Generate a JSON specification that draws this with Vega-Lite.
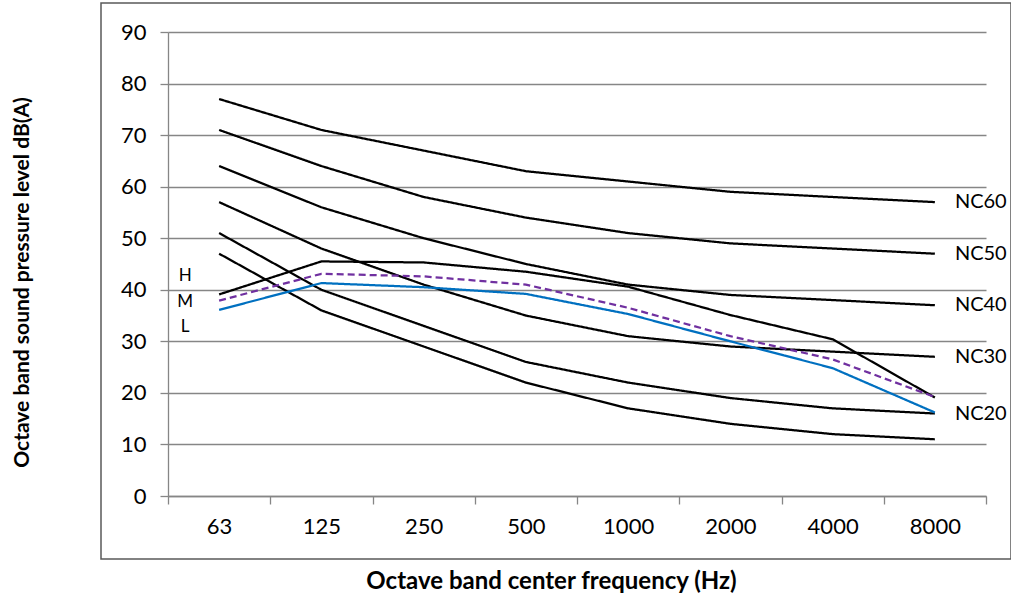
{
  "$schema": "https://vega.github.io/schema/vega-lite/v6.json",
  "width": 910,
  "height": 556,
  "autosize": {"type": "none"},
  "padding": {"left": 101, "top": 3, "right": 0, "bottom": 39},
  "background": "white",
  "config": {
    "view": {"stroke": "#595959", "strokeWidth": 1.5},
    "font": "Lato",
    "axis": {"labelFont": "Lato", "titleFont": "Lato", "labelColor": "#000000", "titleColor": "#000000"},
    "text": {"font": "Lato", "color": "#000000"}
  },
  "datasets": {
    "curves": [
      {"series": "NC15", "freq": "63", "spl": 47}, {"series": "NC15", "freq": "125", "spl": 36}, {"series": "NC15", "freq": "250", "spl": 29}, {"series": "NC15", "freq": "500", "spl": 22}, {"series": "NC15", "freq": "1000", "spl": 17}, {"series": "NC15", "freq": "2000", "spl": 14}, {"series": "NC15", "freq": "4000", "spl": 12}, {"series": "NC15", "freq": "8000", "spl": 11},
      {"series": "NC20", "freq": "63", "spl": 51}, {"series": "NC20", "freq": "125", "spl": 40}, {"series": "NC20", "freq": "250", "spl": 33}, {"series": "NC20", "freq": "500", "spl": 26}, {"series": "NC20", "freq": "1000", "spl": 22}, {"series": "NC20", "freq": "2000", "spl": 19}, {"series": "NC20", "freq": "4000", "spl": 17}, {"series": "NC20", "freq": "8000", "spl": 16},
      {"series": "NC30", "freq": "63", "spl": 57}, {"series": "NC30", "freq": "125", "spl": 48}, {"series": "NC30", "freq": "250", "spl": 41}, {"series": "NC30", "freq": "500", "spl": 35}, {"series": "NC30", "freq": "1000", "spl": 31}, {"series": "NC30", "freq": "2000", "spl": 29}, {"series": "NC30", "freq": "4000", "spl": 28}, {"series": "NC30", "freq": "8000", "spl": 27},
      {"series": "NC40", "freq": "63", "spl": 64}, {"series": "NC40", "freq": "125", "spl": 56}, {"series": "NC40", "freq": "250", "spl": 50}, {"series": "NC40", "freq": "500", "spl": 45}, {"series": "NC40", "freq": "1000", "spl": 41}, {"series": "NC40", "freq": "2000", "spl": 39}, {"series": "NC40", "freq": "4000", "spl": 38}, {"series": "NC40", "freq": "8000", "spl": 37},
      {"series": "NC50", "freq": "63", "spl": 71}, {"series": "NC50", "freq": "125", "spl": 64}, {"series": "NC50", "freq": "250", "spl": 58}, {"series": "NC50", "freq": "500", "spl": 54}, {"series": "NC50", "freq": "1000", "spl": 51}, {"series": "NC50", "freq": "2000", "spl": 49}, {"series": "NC50", "freq": "4000", "spl": 48}, {"series": "NC50", "freq": "8000", "spl": 47},
      {"series": "NC60", "freq": "63", "spl": 77}, {"series": "NC60", "freq": "125", "spl": 71}, {"series": "NC60", "freq": "250", "spl": 67}, {"series": "NC60", "freq": "500", "spl": 63}, {"series": "NC60", "freq": "1000", "spl": 61}, {"series": "NC60", "freq": "2000", "spl": 59}, {"series": "NC60", "freq": "4000", "spl": 58}, {"series": "NC60", "freq": "8000", "spl": 57},
      {"series": "H", "freq": "63", "spl": 39.1}, {"series": "H", "freq": "125", "spl": 45.5}, {"series": "H", "freq": "250", "spl": 45.3}, {"series": "H", "freq": "500", "spl": 43.5}, {"series": "H", "freq": "1000", "spl": 40.6}, {"series": "H", "freq": "2000", "spl": 35.1}, {"series": "H", "freq": "4000", "spl": 30.4}, {"series": "H", "freq": "8000", "spl": 19.1},
      {"series": "M", "freq": "63", "spl": 37.9}, {"series": "M", "freq": "125", "spl": 43.1}, {"series": "M", "freq": "250", "spl": 42.6}, {"series": "M", "freq": "500", "spl": 41.0}, {"series": "M", "freq": "1000", "spl": 36.5}, {"series": "M", "freq": "2000", "spl": 31.0}, {"series": "M", "freq": "4000", "spl": 26.5}, {"series": "M", "freq": "8000", "spl": 19.2},
      {"series": "L", "freq": "63", "spl": 36.1}, {"series": "L", "freq": "125", "spl": 41.3}, {"series": "L", "freq": "250", "spl": 40.5}, {"series": "L", "freq": "500", "spl": 39.2}, {"series": "L", "freq": "1000", "spl": 35.3}, {"series": "L", "freq": "2000", "spl": 30.0}, {"series": "L", "freq": "4000", "spl": 24.8}, {"series": "L", "freq": "8000", "spl": 16.2}
    ],
    "nclabels": [
      {"label": "NC20", "freq": "8000", "spl": 16},
      {"label": "NC30", "freq": "8000", "spl": 27},
      {"label": "NC40", "freq": "8000", "spl": 37},
      {"label": "NC50", "freq": "8000", "spl": 47},
      {"label": "NC60", "freq": "8000", "spl": 57}
    ],
    "hml": [
      {"label": "H", "freq": "63", "spl": 42.6},
      {"label": "M", "freq": "63", "spl": 37.7},
      {"label": "L", "freq": "63", "spl": 32.7}
    ]
  },
  "layer": [
    {
      "data": {"name": "curves"},
      "mark": {"type": "line", "strokeWidth": 2.25, "clip": false},
      "encoding": {
        "x": {
          "field": "freq", "type": "ordinal", "bandPosition": 0.5,
          "scale": {"type": "band", "domain": ["63", "125", "250", "500", "1000", "2000", "4000", "8000"], "range": [67, 885], "paddingInner": 0, "paddingOuter": 0},
          "axis": {
            "title": "Octave band center frequency (Hz)",
            "orient": "bottom", "offset": -63, "labelAngle": 0,
            "tickBand": "extent", "tickSize": 8, "tickColor": "#868686", "tickWidth": 1.3,
            "domainColor": "#868686", "domainWidth": 1.3, "grid": false,
            "labelFontSize": 22, "labelPadding": 12,
            "titleFontSize": 24, "titleFontWeight": "bold",
            "titleX": 450, "titleY": 85, "titleAlign": "center", "titleBaseline": "middle"
          }
        },
        "y": {
          "field": "spl", "type": "quantitative",
          "scale": {"domain": [0, 90], "range": [493, 29], "nice": false, "zero": false},
          "axis": {
            "title": "Octave band sound pressure level dB(A)",
            "offset": -67, "values": [0, 10, 20, 30, 40, 50, 60, 70, 80, 90],
            "grid": true, "gridColor": "#868686", "gridWidth": 1.3,
            "tickSize": 8, "tickColor": "#868686", "tickWidth": 1.3,
            "domainColor": "#868686", "domainWidth": 1.3,
            "labelFontSize": 22, "labelPadding": 14,
            "titleFontSize": 21, "titleFontWeight": "bold",
            "titleX": -146, "titleY": 279, "titleAngle": 270, "titleAlign": "center", "titleBaseline": "middle"
          }
        },
        "detail": {"field": "series"},
        "color": {
          "field": "series", "type": "nominal", "legend": null,
          "scale": {"domain": ["NC15", "NC20", "NC30", "NC40", "NC50", "NC60", "H", "M", "L"],
                    "range": ["#000000", "#000000", "#000000", "#000000", "#000000", "#000000", "#000000", "#7030A0", "#0070C0"]}
        },
        "strokeDash": {
          "field": "series", "type": "nominal", "legend": null,
          "scale": {"domain": ["NC15", "NC20", "NC30", "NC40", "NC50", "NC60", "H", "M", "L"],
                    "range": [[1, 0], [1, 0], [1, 0], [1, 0], [1, 0], [1, 0], [1, 0], [7, 4], [1, 0]]}
        }
      }
    },
    {
      "data": {"name": "nclabels"},
      "mark": {"type": "text", "align": "left", "baseline": "middle", "dx": 20, "fontSize": 20, "clip": false},
      "encoding": {
        "x": {"field": "freq", "type": "ordinal", "bandPosition": 0.5},
        "y": {"field": "spl", "type": "quantitative"},
        "text": {"field": "label"}
      }
    },
    {
      "data": {"name": "hml"},
      "mark": {"type": "text", "align": "center", "baseline": "middle", "dx": -34, "fontSize": 17, "clip": false},
      "encoding": {
        "x": {"field": "freq", "type": "ordinal", "bandPosition": 0.5},
        "y": {"field": "spl", "type": "quantitative"},
        "text": {"field": "label"}
      }
    }
  ]
}
